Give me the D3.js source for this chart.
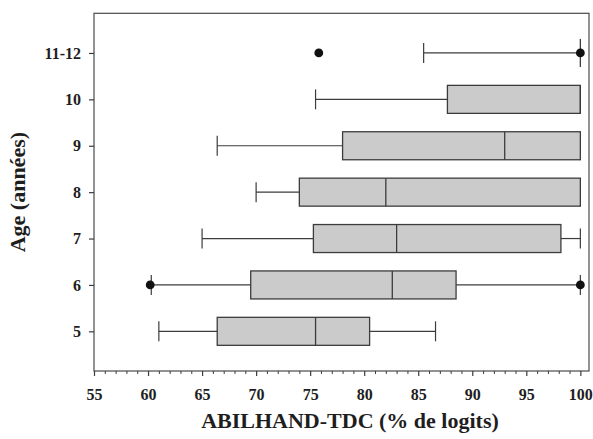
<!DOCTYPE html>
<html>
<head>
<meta charset="utf-8">
<script src="https://cdn.jsdelivr.net/npm/d3@7"></script>
<style>
  html, body { margin: 0; padding: 0; background: #fff; }
  svg { display: block; }
  svg text { font-family: "Liberation Serif", "Times New Roman", serif !important; font-weight: bold; fill: #1e1e1e; }
</style>
</head>
<body>
<svg id="chart" width="593" height="439"></svg>
<script>
// ---- data ----
const categories   = ["5", "6", "7", "8", "9", "10", "11-12"];
const whiskerLow   = [61.0, 60.3, 65.0, 70.0, 66.4, 75.5, 85.5];
const q1           = [66.4, 69.5, 75.3, 74.0, 78.0, 87.7, 100.0];
const median       = [75.5, 82.6, 83.0, 82.0, 93.0, 100.0, 100.0];
const q3           = [80.5, 88.5, 98.2, 100.0, 100.0, 100.0, 100.0];
const whiskerHigh  = [86.6, 100.0, 100.0, 100.0, 100.0, 100.0, 100.0];
const outlierCats  = ["6", "6", "11-12", "11-12"];
const outlierVals  = [60.2, 100.0, 75.8, 100.0];
const xMajorTicks  = [55, 60, 65, 70, 75, 80, 85, 90, 95, 100];
const xTitle = "ABILHAND-TDC (% de logits)";
const yTitle = "Age (années)";

// ---- layout ----
const svg = d3.select("#chart");
const pLeft = 94, pRight = 589, pTop = 13.3, pBottom = 371;
const lineColor = "#3c3c3c";
const FONT = "'Liberation Serif', 'Times New Roman', serif";
const tickFont = 16;

const x = d3.scaleLinear().domain([55, 100.8]).range([pLeft, pRight]);
const yIdx = d3.scaleLinear().domain([-0.855, 6.855]).range([pBottom, pTop]);
const y = c => yIdx(categories.indexOf(c));

const boxH = 28, capH = 20, dotR = 4.4;

// frame
svg.append("rect")
  .attr("x", pLeft).attr("y", pTop)
  .attr("width", pRight - pLeft).attr("height", pBottom - pTop)
  .attr("fill", "none").attr("stroke", "#4a4a4a").attr("stroke-width", 1.2);

function styleAxisText(sel) {
  sel.attr("font-family", FONT).attr("font-size", tickFont).attr("font-weight", "bold");
  sel.selectAll("text").attr("fill", "#1e1e1e").attr("font-size", tickFont)
    .attr("font-family", FONT).attr("font-weight", "bold");
}

// x axis major
const xAxis = svg.append("g").attr("transform", `translate(0,${pBottom})`)
  .call(d3.axisBottom(x).tickValues(xMajorTicks).tickSize(5).tickPadding(13).tickFormat(d3.format("d")));
xAxis.select(".domain").remove();
xAxis.selectAll("line").attr("stroke", lineColor).attr("stroke-width", 1.2);
styleAxisText(xAxis);

// x axis minor
const minorTicks = d3.range(55, 101, 1).filter(v => !xMajorTicks.includes(v));
const xMinor = svg.append("g").attr("transform", `translate(0,${pBottom})`)
  .call(d3.axisBottom(x).tickValues(minorTicks).tickSize(3).tickFormat(""));
xMinor.select(".domain").remove();
xMinor.selectAll("line").attr("stroke", lineColor).attr("stroke-width", 1);

// y axis
const yAxis = svg.append("g").attr("transform", `translate(${pLeft},0)`)
  .call(d3.axisLeft(d3.scalePoint().domain(categories).range([yIdx(0), yIdx(categories.length - 1)]))
    .tickSize(5).tickPadding(8));
yAxis.select(".domain").remove();
yAxis.selectAll("line").attr("stroke", lineColor).attr("stroke-width", 1.2);
styleAxisText(yAxis);

// boxes
const rows = categories.map((c, i) => ({c, lo: whiskerLow[i], q1: q1[i], med: median[i], q3: q3[i], hi: whiskerHigh[i]}));
const g = svg.append("g");

rows.forEach(r => {
  const cy = y(r.c);
  if (r.lo < r.q1) {
    g.append("line").attr("x1", x(r.lo)).attr("x2", x(r.q1)).attr("y1", cy).attr("y2", cy)
      .attr("stroke", lineColor).attr("stroke-width", 1.2);
    g.append("line").attr("x1", x(r.lo)).attr("x2", x(r.lo)).attr("y1", cy - capH / 2).attr("y2", cy + capH / 2)
      .attr("stroke", lineColor).attr("stroke-width", 1.2);
  }
  if (r.hi > r.q3) {
    g.append("line").attr("x1", x(r.q3)).attr("x2", x(r.hi)).attr("y1", cy).attr("y2", cy)
      .attr("stroke", lineColor).attr("stroke-width", 1.2);
    g.append("line").attr("x1", x(r.hi)).attr("x2", x(r.hi)).attr("y1", cy - capH / 2).attr("y2", cy + capH / 2)
      .attr("stroke", lineColor).attr("stroke-width", 1.2);
  }
  g.append("rect").attr("x", x(r.q1)).attr("y", cy - boxH / 2)
    .attr("width", Math.max(0, x(r.q3) - x(r.q1))).attr("height", boxH)
    .attr("fill", "#cbcbcb").attr("stroke", lineColor).attr("stroke-width", 1.3);
  g.append("line").attr("x1", x(r.med)).attr("x2", x(r.med)).attr("y1", cy - boxH / 2).attr("y2", cy + boxH / 2)
    .attr("stroke", lineColor).attr("stroke-width", 1.3);
});

// outliers
g.selectAll("circle.out").data(outlierVals.map((v, i) => ({v, c: outlierCats[i]})))
  .join("circle").attr("class", "out")
  .attr("cx", d => x(d.v)).attr("cy", d => y(d.c)).attr("r", dotR)
  .attr("fill", "#111");

// titles
svg.append("text").attr("x", 350).attr("y", 428).attr("text-anchor", "middle")
  .attr("font-family", FONT).attr("font-weight", "bold")
  .attr("font-size", 22).text(xTitle);
svg.append("text").attr("transform", `translate(25,${(pTop + pBottom) / 2}) rotate(-90)`)
  .attr("font-family", FONT).attr("font-weight", "bold")
  .attr("text-anchor", "middle").attr("font-size", 22).text(yTitle);
</script>
</body>
</html>
